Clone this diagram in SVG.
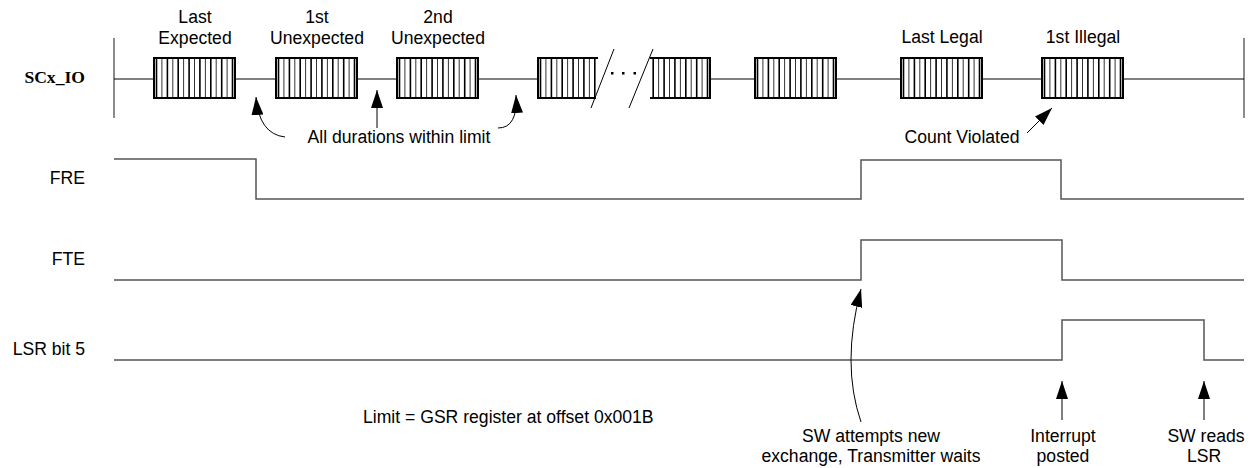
<svg xmlns="http://www.w3.org/2000/svg" xmlns:xlink="http://www.w3.org/1999/xlink" width="1255" height="468" viewBox="0 0 1255 468">
<style>
text{font-family:"Liberation Sans",Arial,sans-serif;font-size:17.6px;fill:#000}
.mid{text-anchor:middle}
.end{text-anchor:end}
.sig{font-family:"Liberation Serif","Times New Roman",serif;font-weight:bold}
.wave{fill:none;stroke:#555;stroke-width:1.5}
.bus{fill:none;stroke:#000;stroke-width:1}
.edge{stroke:#666;stroke-width:1.5}
.bx{fill:#fff;stroke:#000;stroke-width:2}
.tk{stroke:#000;stroke-width:1.6}
.tn{stroke:#000;stroke-width:0.8}
.arr{fill:none;stroke:#000;stroke-width:1;marker-end:url(#ah)}
</style>
<defs>
<marker id="ah" viewBox="0 0 18 12" refX="18" refY="6" markerWidth="18" markerHeight="12" markerUnits="userSpaceOnUse" orient="auto">
<path d="M0,0 L18,6 L0,12 z" fill="#000"/>
</marker>
<g id="stripes">
<line class="tk" x1="2.5" y1="58" x2="2.5" y2="98"/>
<line class="tn" x1="7.9" y1="58" x2="7.9" y2="98"/>
<line class="tk" x1="13.4" y1="58" x2="13.4" y2="98"/>
<line class="tn" x1="18.8" y1="58" x2="18.8" y2="98"/>
<line class="tk" x1="24.2" y1="58" x2="24.2" y2="98"/>
<line class="tn" x1="29.6" y1="58" x2="29.6" y2="98"/>
<line class="tk" x1="35.1" y1="58" x2="35.1" y2="98"/>
<line class="tn" x1="40.5" y1="58" x2="40.5" y2="98"/>
<line class="tk" x1="45.9" y1="58" x2="45.9" y2="98"/>
<line class="tn" x1="51.4" y1="58" x2="51.4" y2="98"/>
<line class="tk" x1="56.8" y1="58" x2="56.8" y2="98"/>
<line class="tn" x1="62.2" y1="58" x2="62.2" y2="98"/>
<line class="tk" x1="67.7" y1="58" x2="67.7" y2="98"/>
<line class="tn" x1="73.1" y1="58" x2="73.1" y2="98"/>
<line class="tk" x1="78.5" y1="58" x2="78.5" y2="98"/>
</g>
<g id="blk">
<rect class="bx" x="0" y="58" width="81" height="40"/>
<use xlink:href="#stripes"/>
</g>
</defs>
<rect width="1255" height="468" fill="#fff"/>

<g id="scx_io">
<text class="sig end" x="85" y="83">SCx_IO</text>
<line class="edge" x1="114" y1="38" x2="114" y2="118"/>
<line class="edge" x1="1244" y1="38" x2="1244" y2="118"/>
<path class="bus" d="M114,79 H598 M650,79 H1244"/>
</g>

<g id="block1"><use xlink:href="#blk" x="154"/>
<text class="mid" x="195" y="23">Last</text><text class="mid" x="195" y="44">Expected</text></g>
<g id="block2"><use xlink:href="#blk" x="276"/>
<text class="mid" x="317" y="23">1st</text><text class="mid" x="317" y="44">Unexpected</text></g>
<g id="block3"><use xlink:href="#blk" x="397"/>
<text class="mid" x="438" y="23">2nd</text><text class="mid" x="438" y="44">Unexpected</text></g>

<g id="block4">
<rect x="538" y="58" width="60" height="40" fill="#fff"/>
<path d="M598,58 H538 V98 H596" fill="none" stroke="#000" stroke-width="2"/>
<line class="tk" x1="540.5" y1="58" x2="540.5" y2="98"/>
<line class="tn" x1="545.9" y1="58" x2="545.9" y2="98"/>
<line class="tk" x1="551.4" y1="58" x2="551.4" y2="98"/>
<line class="tn" x1="556.8" y1="58" x2="556.8" y2="98"/>
<line class="tk" x1="562.2" y1="58" x2="562.2" y2="98"/>
<line class="tn" x1="567.6" y1="58" x2="567.6" y2="98"/>
<line class="tk" x1="573.1" y1="58" x2="573.1" y2="98"/>
<line class="tn" x1="578.5" y1="58" x2="578.5" y2="98"/>
<line class="tk" x1="583.9" y1="58" x2="583.9" y2="98"/>
<line class="tn" x1="589.4" y1="58" x2="589.4" y2="98"/>
<line class="tk" x1="594.8" y1="58" x2="594.8" y2="98"/>
</g>

<g id="break">
<line x1="591" y1="108" x2="614" y2="49" stroke="#000" stroke-width="1"/>
<line x1="629" y1="108" x2="653" y2="49" stroke="#000" stroke-width="1"/>
<rect x="611" y="72" width="2.5" height="2.5" fill="#000"/>
<rect x="622" y="72" width="2.5" height="2.5" fill="#000"/>
<rect x="633.5" y="72" width="2.5" height="2.5" fill="#000"/>
</g>

<g id="block5">
<rect x="650" y="58" width="60" height="40" fill="#fff"/>
<path d="M650,58 H710 V98 H650" fill="none" stroke="#000" stroke-width="2"/>
<line class="tk" x1="653.2" y1="58" x2="653.2" y2="98"/>
<line class="tn" x1="658.6" y1="58" x2="658.6" y2="98"/>
<line class="tk" x1="664.1" y1="58" x2="664.1" y2="98"/>
<line class="tn" x1="669.5" y1="58" x2="669.5" y2="98"/>
<line class="tk" x1="674.9" y1="58" x2="674.9" y2="98"/>
<line class="tn" x1="680.4" y1="58" x2="680.4" y2="98"/>
<line class="tk" x1="685.8" y1="58" x2="685.8" y2="98"/>
<line class="tn" x1="691.2" y1="58" x2="691.2" y2="98"/>
<line class="tk" x1="696.7" y1="58" x2="696.7" y2="98"/>
<line class="tn" x1="702.1" y1="58" x2="702.1" y2="98"/>
<line class="tk" x1="707.5" y1="58" x2="707.5" y2="98"/>
</g>

<g id="block6"><use xlink:href="#blk" x="755"/></g>
<g id="block7"><use xlink:href="#blk" x="901"/>
<text class="mid" x="942" y="43">Last Legal</text></g>
<g id="block8"><use xlink:href="#blk" x="1042"/>
<text class="mid" x="1083" y="43">1st Illegal</text></g>

<g id="fre">
<text class="end" x="85" y="184">FRE</text>
<path class="wave" d="M114,159 H256 V199 H861 V160 H1061 V199 H1244"/>
</g>
<g id="fte">
<text class="end" x="85" y="265">FTE</text>
<path class="wave" d="M114,280 H861 V240 H1062 V280 H1244"/>
</g>
<g id="lsr">
<text class="end" x="85" y="355">LSR bit 5</text>
<path class="wave" d="M114,360 H1062 V320 H1204 V360 H1244"/>
</g>

<g id="notes">
<text class="mid" x="399" y="143">All durations within limit</text>
<text class="mid" x="962" y="143">Count Violated</text>
<text x="363" y="423">Limit = GSR register at offset 0x001B</text>
<text class="mid" x="871" y="442">SW attempts new</text>
<text class="mid" x="871" y="462">exchange, Transmitter waits</text>
<text class="mid" x="1063" y="442">Interrupt</text>
<text class="mid" x="1063" y="462">posted</text>
<text class="mid" x="1206" y="442">SW reads</text>
<text class="mid" x="1204" y="462">LSR</text>
</g>

<g id="connectors">
<path class="arr" d="M285,137 Q259,134 256,97"/>
<path class="arr" d="M377,128 V90"/>
<path class="arr" d="M498,128 Q518,128 516,95"/>
<path class="arr" d="M1027,133 L1052,108"/>
<path class="arr" d="M861,422 Q841,364 861,289"/>
<path class="arr" d="M1062,420 V381"/>
<path class="arr" d="M1204,420 V381"/>
</g>
</svg>
